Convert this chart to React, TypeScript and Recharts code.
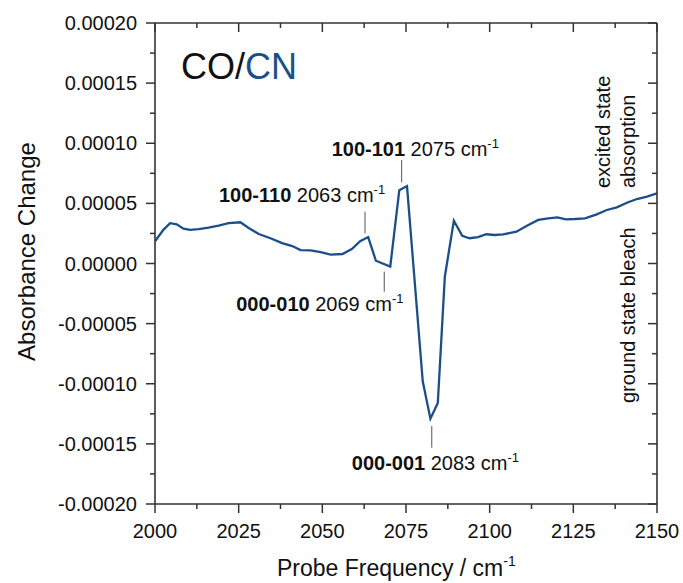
import { LineChart, Line, XAxis, YAxis, ReferenceLine } from "recharts";

// probe frequency (cm-1) and absorbance change
const frequency = [
    2000, 2002.5, 2004.5, 2006.5, 2008.5, 2010.5, 2013, 2016, 2019, 2022, 2025.5, 2028, 2031, 2034.5,
    2038, 2041, 2043.5, 2046.5, 2049.5, 2052.5, 2056, 2058.8, 2061.3, 2063.7, 2066, 2070.3, 2073,
    2075.3, 2080, 2082.3, 2084.5, 2086.6, 2089.3, 2091.8, 2094, 2096.5, 2099, 2101.5, 2104, 2108,
    2111, 2114.5, 2117.5, 2120.2, 2122.8, 2125.5, 2128.5, 2132, 2135, 2138, 2141, 2144, 2147, 2150,
];
const absorbanceChange = [
    0.0000185, 0.000028, 0.0000335, 0.0000326, 0.000029, 0.000028, 0.0000285, 0.0000298, 0.0000315,
    0.0000335, 0.0000343, 0.0000295, 0.0000245, 0.000021, 0.000017, 0.0000145, 0.0000112, 0.000011,
    0.0000095, 0.0000074, 0.0000079, 0.000012, 0.0000185, 0.000022, 0.0000023, -0.0000025, 0.000061,
    0.0000644, -0.000098, -0.000129, -0.000116, -0.000011, 0.0000356, 0.000023, 0.000021, 0.000022,
    0.0000243, 0.0000237, 0.0000243, 0.0000264, 0.0000312, 0.0000362, 0.0000376, 0.0000384, 0.0000367,
    0.000037, 0.0000376, 0.0000409, 0.0000445, 0.0000467, 0.0000505, 0.0000536, 0.0000556, 0.0000584,
];

const xMajor = [2000, 2025, 2050, 2075, 2100, 2125, 2150];
const xTicks = [2000, 2012.5, 2025, 2037.5, 2050, 2062.5, 2075, 2087.5, 2100, 2112.5, 2125, 2137.5, 2150];
const yMajor = [-0.0002, -0.00015, -0.0001, -0.00005, 0, 0.00005, 0.0001, 0.00015, 0.0002];
const yTicks = [
    -0.0002, -0.000175, -0.00015, -0.000125, -0.0001, -0.000075, -0.00005, -0.000025, 0,
    0.000025, 0.00005, 0.000075, 0.0001, 0.000125, 0.00015, 0.000175, 0.0002,
];

// peak assignments: mode, wavenumber, leader line ends
const peaks = [
    { mode: "100-110", wn: "2063", x: 2062.75, y1: 0.0000251, y2: 0.0000431, dx: -146, dy: -10 },
    { mode: "100-101", wn: "2075", x: 2073.7, y1: 0.0000675, y2: 0.0000861, dx: -70, dy: -4 },
    { mode: "000-010", wn: "2069", x: 2068.5, y1: -0.0000235, y2: -0.0000068, dx: -148, dy: 39 },
    { mode: "000-001", wn: "2083", x: 2082.7, y1: -0.0001532, y2: -0.0001351, dx: -80, dy: 44 },
];

const data = frequency.map((f, i) => ({ f, a: absorbanceChange[i] }));

const FONT = "'Liberation Sans', Arial, sans-serif";
const BLUE = "#1b4f8a";
const AXIS = "#333";

const isMajor = (v: number, list: number[]) => list.some((m) => Math.abs(m - v) < 1e-9);

const fmtY = (v: number) => (Math.abs(v) < 1e-12 ? "0.00000" : v.toFixed(5));

const BottomTick = ({ x, y, payload }: any) => {
    const major = isMajor(payload.value, xMajor);
    return (
        <g>
            <line x1={x} y1={y} x2={x} y2={y + (major ? 9 : 5)} stroke={AXIS} strokeWidth={1.5} />
            {major && (
                <text x={x} y={y + 34} textAnchor="middle" fontSize={20} fontFamily={FONT} fill="#111">
                    {payload.value}
                </text>
            )}
        </g>
    );
};

const TopTick = ({ x, y, payload }: any) => {
    const major = isMajor(payload.value, xMajor);
    return <line x1={x} y1={y} x2={x} y2={y + (major ? 9 : 5)} stroke={AXIS} strokeWidth={1.5} />;
};

const LeftTick = ({ x, y, payload }: any) => {
    const major = isMajor(payload.value, yMajor);
    return (
        <g>
            <line x1={x - (major ? 9 : 5)} y1={y} x2={x} y2={y} stroke={AXIS} strokeWidth={1.5} />
            {major && (
                <text x={x - 18} y={y + 7} textAnchor="end" fontSize={20} fontFamily={FONT} fill="#111">
                    {fmtY(payload.value)}
                </text>
            )}
        </g>
    );
};

const RightTick = ({ x, y, payload }: any) => {
    const major = isMajor(payload.value, yMajor);
    return <line x1={x - (major ? 9 : 5)} y1={y} x2={x} y2={y} stroke={AXIS} strokeWidth={1.5} />;
};

const peakLabel = (p: (typeof peaks)[number]) => (props: any) => {
    const vb = props.viewBox;
    return (
        <text x={vb.x + p.dx} y={vb.y + p.dy} fontSize={20} fontFamily={FONT} fill="#111">
            <tspan fontWeight="bold">{p.mode}</tspan>
            <tspan> {p.wn} cm</tspan>
            <tspan fontSize={13} dy={-8}>-1</tspan>
        </text>
    );
};

const yTitle = (props: any) => {
    const vb = props.viewBox;
    const cx = vb.x + 35;
    const cy = vb.y + vb.height / 2 - 12;
    return (
        <text x={cx} y={cy} transform={`rotate(-90, ${cx}, ${cy})`} textAnchor="middle" fontSize={24} fontFamily={FONT} fill="#111">
            Absorbance Change
        </text>
    );
};

const xTitle = (props: any) => {
    const vb = props.viewBox;
    return (
        <text x={vb.x + 122} y={vb.y + 72} fontSize={23} fontFamily={FONT} fill="#111">
            Probe Frequency / cm
            <tspan fontSize={14} dy={-10}>-1</tspan>
        </text>
    );
};

const topLabel = (props: any) => {
    const vb = props.viewBox;
    return (
        <text x={vb.x + 26} y={vb.y + 57} fontSize={36} fontFamily={FONT} fill="#111">
            CO/<tspan fill={BLUE}>CN</tspan>
        </text>
    );
};

const sideLabel = (props: any) => {
    const vb = props.viewBox;
    const rows = [
        { t: "excited state", x: vb.x - 47, y: vb.y + 165 },
        { t: "absorption", x: vb.x - 22, y: vb.y + 165 },
        { t: "ground state bleach", x: vb.x - 22, y: vb.y + 380 },
    ];
    return (
        <g>
            {rows.map((r) => (
                <text key={r.t} x={r.x} y={r.y} transform={`rotate(-90, ${r.x}, ${r.y})`} fontSize={20} fontFamily={FONT} fill="#111">
                    {r.t}
                </text>
            ))}
        </g>
    );
};

export default function App() {
    return (
        <div style={{ position: "absolute", left: 0, top: 0, background: "#fff" }}>
            <LineChart width={683} height={583} data={data} margin={{ top: 22, right: 25, bottom: 0, left: 0 }}>
                <XAxis
                    xAxisId="bottom"
                    dataKey="f"
                    type="number"
                    domain={[2000, 2150]}
                    allowDataOverflow
                    ticks={xTicks}
                    interval={0}
                    height={79}
                    tickSize={0}
                    tickMargin={0}
                    tick={(p: any) => <BottomTick {...p} />}
                    axisLine={{ stroke: AXIS, strokeWidth: 1.6 }}
                    label={xTitle}
                />
                <XAxis
                    xAxisId="top"
                    orientation="top"
                    dataKey="f"
                    type="number"
                    domain={[2000, 2150]}
                    allowDataOverflow
                    ticks={xTicks}
                    interval={0}
                    height={1}
                    tickSize={0}
                    tickMargin={0}
                    tick={(p: any) => <TopTick {...p} />}
                    axisLine={{ stroke: AXIS, strokeWidth: 1.6 }}
                    label={topLabel}
                />
                <YAxis
                    yAxisId="left"
                    type="number"
                    domain={[-0.0002, 0.0002]}
                    allowDataOverflow
                    ticks={yTicks}
                    interval={0}
                    width={155}
                    tickSize={0}
                    tickMargin={0}
                    tick={(p: any) => <LeftTick {...p} />}
                    axisLine={{ stroke: AXIS, strokeWidth: 1.6 }}
                    label={yTitle}
                />
                <YAxis
                    yAxisId="right"
                    orientation="right"
                    type="number"
                    domain={[-0.0002, 0.0002]}
                    allowDataOverflow
                    ticks={yTicks}
                    interval={0}
                    width={1}
                    tickSize={0}
                    tickMargin={0}
                    tick={(p: any) => <RightTick {...p} />}
                    axisLine={{ stroke: AXIS, strokeWidth: 1.6 }}
                    label={sideLabel}
                />
                {peaks.map((p) => (
                    <ReferenceLine
                        key={p.mode}
                        xAxisId="bottom"
                        yAxisId="left"
                        segment={[{ x: p.x, y: p.y1 }, { x: p.x, y: p.y2 }]}
                        stroke="#555"
                        strokeWidth={1}
                        label={peakLabel(p)}
                    />
                ))}
                {/* invisible copy so the mirrored top/right frame axes have a series */}
                <Line
                    xAxisId="top"
                    yAxisId="right"
                    dataKey="a"
                    type="linear"
                    stroke="none"
                    dot={false}
                    activeDot={false}
                    legendType="none"
                    isAnimationActive={false}
                />
                <Line
                    xAxisId="bottom"
                    yAxisId="left"
                    dataKey="a"
                    type="linear"
                    stroke={BLUE}
                    strokeWidth={2.3}
                    dot={false}
                    activeDot={false}
                    isAnimationActive={false}
                />
            </LineChart>
        </div>
    );
}
